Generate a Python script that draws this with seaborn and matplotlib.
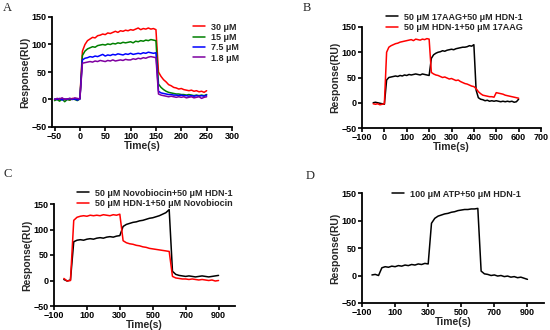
import numpy as np
import pandas as pd
import matplotlib
matplotlib.use("Agg")
import matplotlib.pyplot as plt
import seaborn as sns

sns.set_theme(style="ticks")
plt.rcParams['font.family'] = ['Liberation Sans', 'DejaVu Sans']
plt.rcParams['font.weight'] = 'bold'

# ---------------- Panel A data ----------------
t_A = list(range(-50, 255, 5))
A_30 = [0, 1, -1, 2, 0, 1, -1, 2, 1, 0, 2,
        88, 100, 107, 110, 113, 112, 116, 117, 119, 118, 121, 120, 122, 124, 122, 125, 124, 126, 125,
        127, 126, 128, 130, 127, 129, 128, 130, 128, 129, 127,
        50, 42, 36, 32, 27, 25, 22, 21, 19, 20, 18, 17, 16, 17, 15, 16, 14, 15, 13, 16]
A_15 = [-2, 0, -3, 1, -4, 0, -1, 1, 0, -2, 1,
        80, 88, 92, 94, 96, 95, 98, 99, 100, 99, 101, 100, 102, 101, 103, 102, 104, 103, 104,
        105, 103, 106, 105, 107, 106, 108, 107, 109, 108, 107,
        28, 22, 18, 15, 13, 12, 11, 10, 10, 9, 9, 8, 9, 8, 7, 8, 7, 8, 7, 9]
A_75 = [1, 0, 2, -1, 1, 0, 2, 0, 1, -1, 1,
        72, 75, 76, 78, 77, 79, 78, 80, 82, 79, 81, 80, 82, 81, 83, 82, 81, 83, 82,
        84, 82, 83, 84, 83, 85, 84, 86, 85, 84, 85,
        15, 12, 11, 10, 9, 9, 8, 8, 7, 8, 7, 7, 6, 7, 6, 7, 6, 7, 6, 8]
A_18 = [0, 2, 1, 3, 0, 1, 2, 1, 3, 2, 1,
        66, 67, 68, 69, 68, 70, 69, 71, 70, 69, 71, 70, 72, 70, 71, 72, 71, 73, 72,
        72, 74, 73, 75, 74, 76, 75, 77, 78, 77, 76,
        10, 8, 7, 6, 5, 6, 5, 4, 5, 4, 5, 3, 4, 5, 3, 4, 5, 2, 4, 5]
A_labels = ["30 μM", "15 μM", "7.5 μM", "1.8 μM"]
A_colors = ["#ff0000", "#008000", "#0000ff", "#7f00a0"]

# ---------------- Panel B data ----------------
t_B = list(range(-50, 610, 10))
B_black = [0, 1, 0, -1, -2, -3,
           45, 50, 51, 52, 53, 52, 54, 53, 55, 54, 56, 55, 56, 57, 56, 55, 57, 56, 55, 54,
           88, 95, 98, 100, 101, 103, 102, 104, 105, 106, 105, 107, 108, 109, 110, 110, 111, 113, 112, 115,
           25, 10, 7, 6, 4, 5, 3, 4, 3, 4, 3, 2, 3, 2, 3, 2, 3, 1, 2, 7]
B_red = [-2, -3, -2, -4, -3, -2,
         100, 110, 113, 115, 117, 118, 120, 121, 122, 123, 124, 125, 123, 126, 125, 124, 126, 125, 127, 126,
         60, 57, 55, 54, 52, 50, 51, 49, 47, 48, 46, 44, 45, 42, 40, 38, 37, 35, 33, 32,
         28, 22, 18, 15, 14, 13, 12, 12, 11, 20, 19, 18, 17, 15, 14, 13, 12, 11, 10, 9]
B_labels = ["50 μM 17AAG+50 μM HDN-1", "50 μM HDN-1+50 μM 17AAG"]

# ---------------- Panel C data ----------------
t_C = list(range(-40, 920, 20))
C_black = [2, -1, 1,
           76, 79, 80, 79, 81, 82, 81, 83, 84, 83, 85, 86, 85, 87, 88,
           106, 110, 112, 114, 115, 117, 118, 120, 122, 123, 125, 127, 130, 133, 139,
           18, 12, 10, 9, 8, 9, 8, 7, 8, 9, 8, 7, 8, 9, 10]
C_red = [4, -1, 0,
         118, 124, 126, 127, 126, 128, 127, 128, 127, 129, 128, 127, 129, 128, 130,
         78, 74, 72, 71, 69, 68, 66, 65, 63, 62, 61, 60, 59, 58, 57,
         8, 5, 4, 3, 3, 2, 3, 2, 1, 2, 1, 0, 1, -1, 0]
C_labels = ["50 μM Novobiocin+50 μM HDN-1", "50 μM HDN-1+50 μM Novobiocin"]

# ---------------- Panel D data ----------------
t_D = list(range(-40, 920, 20))
D_black = [1, 2, 0,
           14, 16, 15, 17, 16, 18, 17, 19, 18, 20, 19, 21, 20, 22, 21,
           95, 104, 108, 110, 112, 113, 115, 116, 118, 119, 120, 120, 121, 121, 122,
           8, 3, 2, 0, 1, -1, 0, -2, -1, -3, -2, -4, -3, -5, -7]
D_labels = ["100 μM ATP+50 μM HDN-1"]

W, H = 550, 330
fig = plt.figure(figsize=(W / 100, H / 100), dpi=100)


def make_ax(left, top, right, bottom):
    return fig.add_axes([left / W, 1 - bottom / H, (right - left) / W, (bottom - top) / H])


def style(ax, xlim, xticks):
    ax.set_xlim(*xlim)
    ax.set_ylim(-50, 150)
    ax.set_xticks(xticks)
    ax.set_yticks([-50, 0, 50, 100, 150])
    sns.despine(ax=ax)
    for s in ["left", "bottom"]:
        ax.spines[s].set_linewidth(1.3)
        ax.spines[s].set_color("black")
    ax.tick_params(axis="both", direction="out", length=3, width=1.2, labelsize=6.5,
                   pad=0.8, colors="black")
    for lab in ax.get_xticklabels() + ax.get_yticklabels():
        lab.set_fontweight("bold")
    ax.set_xlabel("Time(s)", fontsize=7.5, fontweight="bold", labelpad=-0.5)
    ax.set_ylabel("Response(RU)", fontsize=7.5, fontweight="bold", labelpad=1)
    ax.set_facecolor("none")


def draw(ax, t, series, labels, colors):
    frames = []
    for vals, lab in zip(series, labels):
        frames.append(pd.DataFrame({"t": t, "r": vals, "s": lab}))
    df = pd.concat(frames, ignore_index=True)
    sns.lineplot(data=df, x="t", y="r", hue="s", hue_order=labels,
                 palette=dict(zip(labels, colors)), ax=ax, linewidth=1.1,
                 estimator=None, sort=False, legend=True)


def legend(ax, loc_fig, fs=6.5):
    h, l = ax.get_legend_handles_labels()
    ax.legend(h, l, loc="upper left", bbox_to_anchor=loc_fig, bbox_transform=fig.transFigure,
              frameon=False, handlelength=1.4, handletextpad=0.7,
              labelspacing=0.15, borderpad=0, prop={"weight": "bold", "size": fs})


# Panel A
axA = make_ax(52, 17, 232, 127)
draw(axA, t_A, [A_30, A_15, A_75, A_18], A_labels, A_colors)
style(axA, (-55, 300), [-50, 0, 50, 100, 150, 200, 250, 300])
legend(axA, (188 / W, 1 - 18 / H))

# Panel B
axB = make_ax(362, 27, 541, 128)
draw(axB, t_B, [B_black, B_red], B_labels, ["#000000", "#ff0000"])
style(axB, (-100, 700), [-100, 0, 100, 200, 300, 400, 500, 600, 700])
legend(axB, (381 / W, 1 - 8 / H))

# Panel C
axC = make_ax(54, 204, 235, 306)
draw(axC, t_C, [C_black, C_red], C_labels, ["#000000", "#ff0000"])
style(axC, (-100, 1000), [-100, 100, 300, 500, 700, 900])
legend(axC, (72 / W, 1 - 184 / H))

# Panel D
axD = make_ax(362, 193, 544, 303)
draw(axD, t_D, [D_black], D_labels, ["#000000"])
style(axD, (-100, 1000), [-100, 100, 300, 500, 700, 900])
legend(axD, (387 / W, 1 - 185 / H))

# Panel letters
for txt, x, y in [("A", 3, 2), ("B", 303, 2), ("C", 3, 168), ("D", 306, 170)]:
    fig.text(x / W, 1 - y / H, txt, family=["Liberation Serif", "DejaVu Serif"],
             fontsize=9, va="top", ha="left", fontweight="normal")

fig.savefig("out.png", dpi=100)
